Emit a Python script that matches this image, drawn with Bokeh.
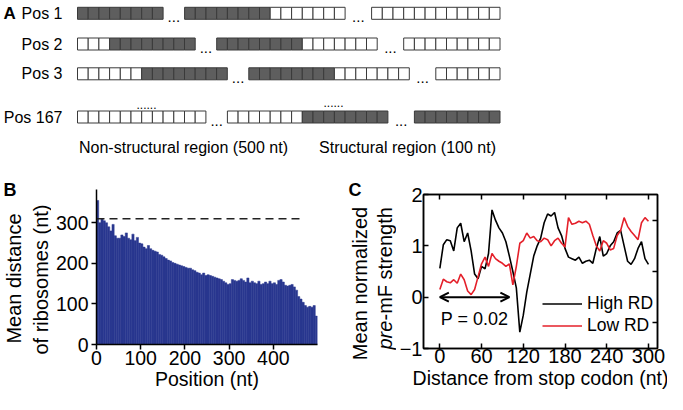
from bokeh.plotting import figure
from bokeh.models import (Range1d, Label, Legend, LegendItem, Arrow, OpenHead,
                          LinearAxis, FixedTicker, CustomLabelingPolicy)
from bokeh.layouts import column, row
from bokeh.core.properties import value
from bokeh.embed import file_html
from bokeh.resources import INLINE
import math

FONT = "Liberation Sans"

# ---------------- Panel A data ----------------
a_rows = ["Pos 1", "Pos 2", "Pos 3", "Pos 167"]
# 1 = occupied (dark) box, 0 = empty box
a_seg1 = ["11111111", "00011111111", "00000011111111", "000000000000"]
a_seg2 = ["111111110000000", "111111110000000", "111111110000000", "000000011111111"]
a_seg3 = ["000000000000", "000000000", "000000", "11111111"]
a_region_labels = ["Non-structural region (500 nt)", "Structural region (100 nt)"]

# ---------------- Panel B data ----------------
b_bin_start = list(range(0, 500, 5))
b_mean_dist = [355, 300, 310, 305, 300, 290, 280, 296, 268, 262,
               262, 270, 266, 275, 262, 258, 272, 256, 264, 250,
               248, 240, 236, 244, 236, 232, 230, 228, 222, 220,
               216, 212, 208, 206, 202, 200, 198, 196, 194, 192,
               190, 188, 188, 184, 182, 178, 176, 172, 176, 170,
               172, 170, 168, 166, 164, 162, 160, 156, 152, 148,
               150, 160, 158, 156, 158, 162, 158, 154, 164, 152,
               156, 152, 150, 156, 148, 150, 154, 150, 156, 150,
               152, 148, 158, 160, 154, 146, 144, 146, 148, 142,
               134, 118, 112, 104, 96, 92, 94, 92, 96, 70]
b_ref_x = [0, 470]
b_ref_y = [310, 310]
b_xticks = [0, 100, 200, 300, 400]
b_yticks = [0, 100, 200, 300]
b_ylabel = ["Mean distance", "of ribosomes (nt)"]
b_xlabel = "Position (nt)"

# ---------------- Panel C data ----------------
c_x = list(range(0, 301, 5))
c_high = [0.56, 1.02, 1.12, 1.10, 0.90, 1.35, 1.44, 1.08, 1.25, 0.90,
          0.45, 0.36, 0.60, 0.55, 0.85, 1.70, 1.50, 1.35, 1.25, 1.08,
          0.80, 0.50, 0.18, -0.68, -0.35, 0.10, 0.45, 0.80, 1.00, 1.15,
          1.45, 1.62, 1.58, 1.65, 1.35, 1.20, 0.95, 0.78, 0.75, 0.72,
          0.78, 0.66, 0.70, 0.72, 0.66, 0.95, 1.18, 0.80, 0.85, 1.00,
          1.08, 1.25, 1.30, 1.00, 0.70, 0.64, 0.75, 0.95, 1.08, 0.75,
          0.64]
c_low = [0.15, 0.35, 0.30, 0.28, 0.34, 0.27, 0.45, 0.34, 0.12, 0.05,
         0.15, 0.40, 0.65, 0.78, 0.60, 0.85, 0.75, 0.70, 0.66, 0.60,
         0.65, 0.24, 0.60, 1.05, 1.10, 1.25, 1.15, 1.18, 1.10, 1.08,
         1.15, 1.12, 1.00, 1.10, 1.15, 1.05, 0.98, 1.55, 1.42, 1.44,
         1.48, 1.45, 1.48, 1.42, 1.20, 1.00, 0.90, 1.10, 1.05, 0.92,
         0.95, 1.20, 1.30, 1.55, 1.38, 1.28, 1.20, 1.12, 1.45, 1.55,
         1.48]
c_xticks = [0, 60, 120, 180, 240, 300]
c_yticks = [-1, 0, 1, 2]
c_right_ticks = [-0.5, 0.5, 1.5]
c_arrow_x = [0, 100]
c_pvalue = "P = 0.02"
c_xlabel = "Distance from stop codon (nt)"
c_ylabel1 = "Mean normalized"
c_ylabel2 = ["pre", "-mF strength"]

TXT = dict(text_font=value(FONT), text_color="black")


def blank_fig(width, height, xr, yr):
    p = figure(width=width, height=height, x_range=Range1d(*xr), y_range=Range1d(*yr),
               output_backend="svg", toolbar_location=None, x_axis_type=None,
               y_axis_type=None, min_border=0, outline_line_color=None,
               frame_align=False)
    p.grid.visible = False
    return p


# ================= Panel A figure =================
A_X0, BOX_W, GAP1, GAP2, BOX_H = 77.0, 10.7, 21.5, 26.5, 12.0
ROW_Y = [12.8, 43.5, 73.3, 116.5]
DARK, EDGE = "#5e5e5e", "#3a3a3a"

L, R, T, B, F = [], [], [], [], []
dot_x, dot_y = [], []
for yc, s1, s2, s3 in zip(ROW_Y, a_seg1, a_seg2, a_seg3):
    x = A_X0
    for k, seg in enumerate((s1, s2, s3)):
        for ch in seg:
            L.append(x); R.append(x + BOX_W)
            T.append(yc - BOX_H / 2); B.append(yc + BOX_H / 2)
            F.append(DARK if ch == "1" else "white")
            x += BOX_W
        if k == 0:
            dot_x.append(x + GAP1 / 2); dot_y.append(yc + 4); x += GAP1
        elif k == 1:
            dot_x.append(x + GAP2 / 2); dot_y.append(yc + 4); x += GAP2

pA = blank_fig(667, 156, (0, 667), (156, 0))
pA.quad(left=L, right=R, top=T, bottom=B, fill_color=F, line_color=EDGE, line_width=1)
pA.text(x=dot_x, y=dot_y, text=["..."] * len(dot_x), text_align="center",
        text_baseline="alphabetic", text_font_size=value("15px"), **TXT)
pA.text(x=[146, 333], y=[104, 102], text=["......", "......"], text_align="center",
        text_baseline="alphabetic", text_font_size=value("12px"), **TXT)
pA.text(x=[62] * 4, y=ROW_Y, text=a_rows, text_align="right", text_baseline="middle",
        text_font_size=value("16px"), **TXT)
pA.text(x=[183, 407], y=[147, 147], text=a_region_labels, text_align="center",
        text_baseline="middle", text_font_size=value("16px"), **TXT)
pA.text(x=[3], y=[13], text=["A"], text_align="left", text_baseline="middle",
        text_font_size=value("17px"), text_font_style="bold", **TXT)

# ================= Panel B =================
NAVY = "#29378f"
sB = blank_fig(51, 238, (0, 51), (398, 160))
sB.text(x=[3], y=[193], text=["B"], text_align="left", text_baseline="middle",
        text_font_size=value("18px"), text_font_style="bold", **TXT)
sB.text(x=[13, 40], y=[282, 283], text=b_ylabel, angle=math.pi / 2, text_align="center",
        text_baseline="middle", text_font_size=value("20px"), **TXT)

pB = figure(width=289, height=238, x_range=Range1d(0, 500), y_range=Range1d(0, 382),
            output_backend="svg", toolbar_location=None, frame_align=False,
            min_border_left=45, min_border_right=23, min_border_top=33,
            min_border_bottom=50, outline_line_color=None)
pB.grid.visible = False
pB.vbar(x=[s + 2.5 for s in b_bin_start], top=b_mean_dist, width=5, bottom=0,
        fill_color=NAVY, line_color=NAVY, line_width=0.5)
pB.line(b_ref_x, b_ref_y, line_color="#222222", line_width=1.5, line_dash="8 5")
pB.xaxis.ticker = FixedTicker(ticks=b_xticks)
pB.yaxis.ticker = FixedTicker(ticks=b_yticks)
pB.xaxis.axis_label = b_xlabel
for ax in (pB.xaxis[0], pB.yaxis[0]):
    ax.axis_line_width = 1.5
    ax.axis_line_color = "black"
    ax.major_tick_out = 5
    ax.major_tick_in = 0
    ax.major_tick_line_width = 1.5
    ax.minor_tick_line_color = None
    ax.major_label_text_font = FONT
    ax.major_label_text_font_size = "19.5px"
    ax.major_label_text_color = "black"
    ax.axis_label_text_font = FONT
    ax.axis_label_text_font_size = "19.5px"
    ax.axis_label_text_font_style = "normal"
    ax.axis_label_text_color = "black"
pB.xaxis.major_label_standoff = 1
pB.xaxis.axis_label_standoff = 0
pB.yaxis.major_label_standoff = 3

# ================= Panel C =================
RED = "#e4202a"
sC = blank_fig(56, 238, (340, 396), (398, 160))
sC.text(x=[348], y=[193], text=["C"], text_align="left", text_baseline="middle",
        text_font_size=value("18px"), text_font_style="bold", **TXT)
sC.text(x=[359], y=[287], text=[c_ylabel1], angle=math.pi / 2, text_align="center",
        text_baseline="middle", text_font_size=value("20px"), **TXT)
sC.text(x=[384], y=[353], text=[c_ylabel2[0]], angle=math.pi / 2, text_align="left",
        text_baseline="middle", text_font_size=value("20px"), text_font_style="italic", **TXT)
sC.text(x=[384], y=[324], text=[c_ylabel2[1]], angle=math.pi / 2, text_align="left",
        text_baseline="middle", text_font_size=value("20px"), **TXT)

pC = figure(width=271, height=238, x_range=Range1d(-23.5, 313), y_range=Range1d(-1, 2),
            output_backend="svg", toolbar_location=None, frame_align=False,
            min_border_left=23, min_border_right=10, min_border_top=38,
            min_border_bottom=46, outline_line_color="black", outline_line_width=1.5)
pC.grid.visible = False
r_hi = pC.line(c_x, c_high, line_color="black", line_width=1.6)
r_lo = pC.line(c_x, c_low, line_color=RED, line_width=1.6)
pC.xaxis.ticker = FixedTicker(ticks=c_xticks)
pC.yaxis.ticker = FixedTicker(ticks=c_yticks)
pC.xaxis.axis_label = c_xlabel
for ax in (pC.xaxis[0], pC.yaxis[0]):
    ax.axis_line_width = 1.5
    ax.major_tick_out = 0
    ax.major_tick_in = 5
    ax.major_tick_line_width = 1.5
    ax.minor_tick_line_color = None
    ax.major_label_text_font = FONT
    ax.major_label_text_font_size = "20px"
    ax.major_label_text_color = "black"
    ax.axis_label_text_font = FONT
    ax.axis_label_text_font_size = "19.5px"
    ax.axis_label_text_font_style = "normal"
    ax.axis_label_text_color = "black"
pC.xaxis.major_label_standoff = 0
pC.xaxis.axis_label_standoff = 1
pC.yaxis.major_label_standoff = 1

hide_labels = CustomLabelingPolicy(code="""
try { for (const i of Array.from(indices)) { indices.unset(i) } } catch (e) {}
return indices
""")
top_ax = LinearAxis(ticker=FixedTicker(ticks=c_xticks), major_tick_in=5, major_tick_out=0,
                    major_tick_line_width=1.5, minor_tick_line_color=None,
                    axis_line_width=1.5, major_label_text_font_size="1px",
                    major_label_standoff=0, major_label_policy=hide_labels)
right_ax = LinearAxis(ticker=FixedTicker(ticks=c_right_ticks), major_tick_in=5,
                      major_tick_out=0, major_tick_line_width=1.5,
                      minor_tick_line_color=None, axis_line_width=1.5,
                      major_label_text_font_size="1px", major_label_standoff=0,
                      major_label_policy=hide_labels)
pC.add_layout(top_ax, "above")
pC.add_layout(right_ax, "right")

pC.add_layout(Arrow(start=OpenHead(size=9, line_width=2), end=OpenHead(size=9, line_width=2),
                    x_start=c_arrow_x[0], y_start=0, x_end=c_arrow_x[1], y_end=0,
                    line_width=2, line_color="black"))
pC.add_layout(Label(x=(c_arrow_x[0] + c_arrow_x[1]) / 2, y=-0.42, text=c_pvalue,
                    text_align="center", text_baseline="middle", text_font=FONT,
                    text_font_size="18px", text_color="black"))

legend = Legend(items=[LegendItem(label="High RD", renderers=[r_hi]),
                       LegendItem(label="Low RD", renderers=[r_lo])],
                location=(119, 12), glyph_width=40, glyph_height=21, label_height=21,
                label_standoff=5, spacing=1, padding=0, margin=0,
                border_line_color=None, background_fill_alpha=0,
                label_text_font=FONT, label_text_font_size="17.5px",
                label_text_color="black")
pC.add_layout(legend)

layout = column(pA, row(sB, pB, sC, pC))
open("out.html", "w").write(file_html(layout, INLINE))
